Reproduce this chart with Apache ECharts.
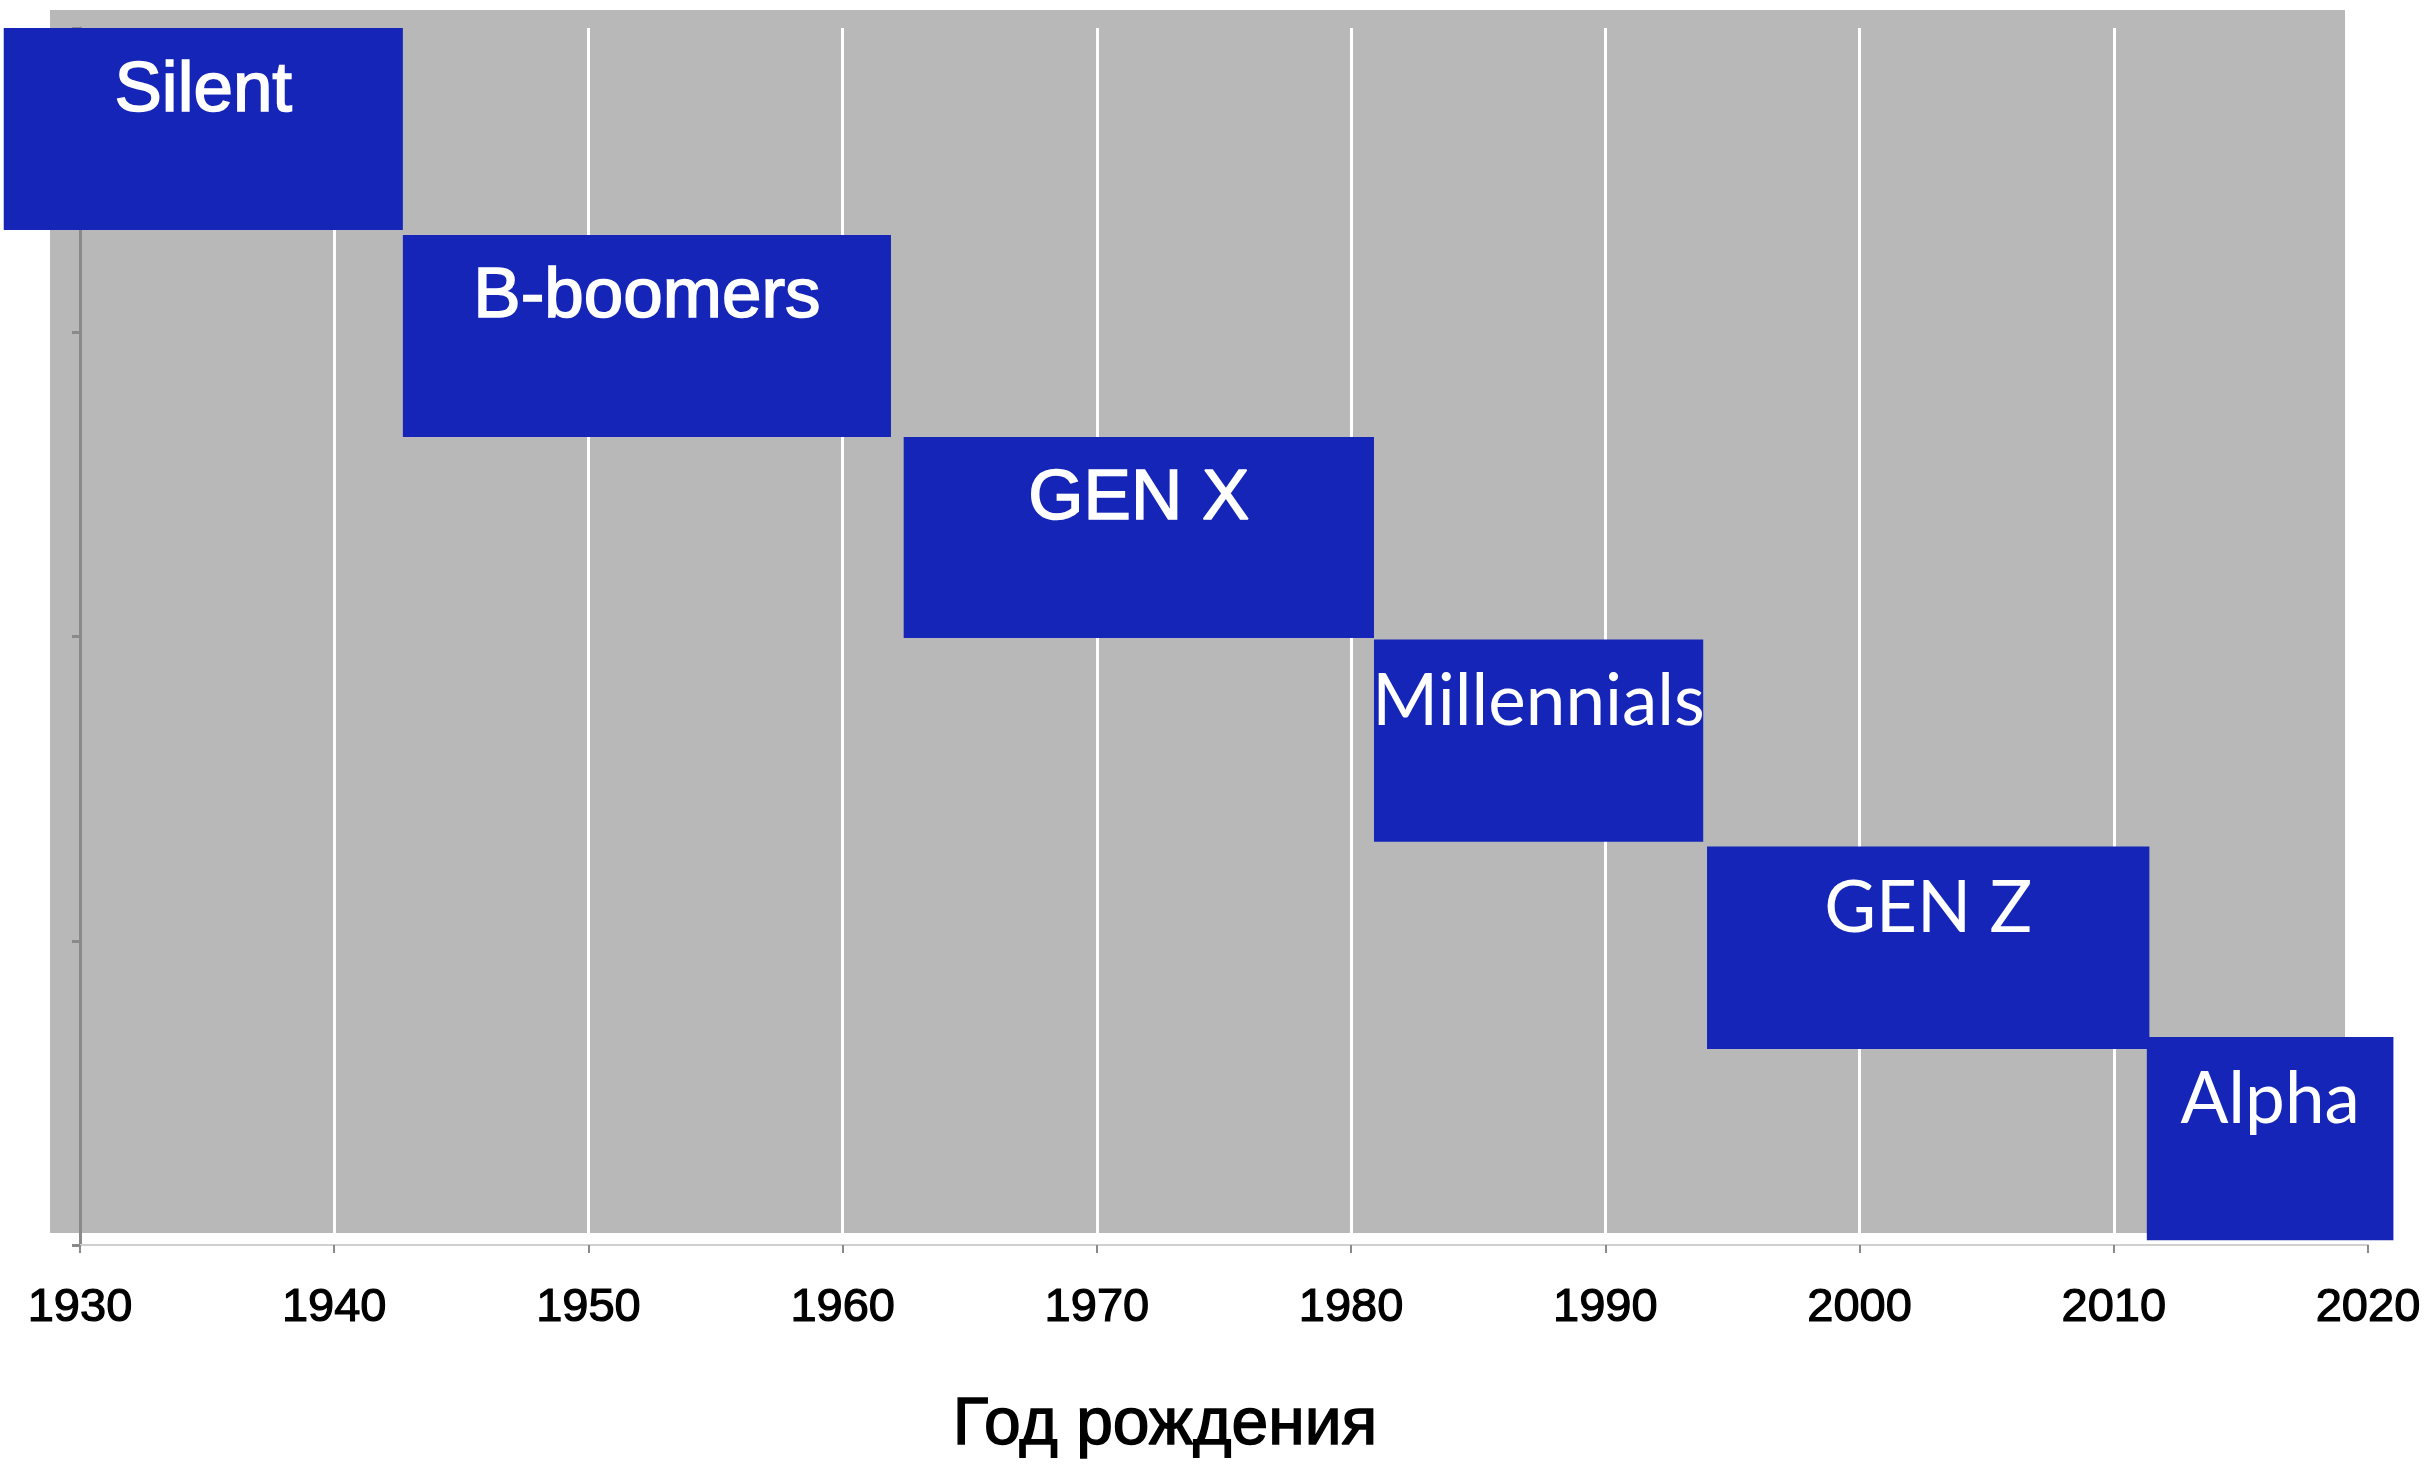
<!DOCTYPE html>
<html>
<head>
<meta charset="utf-8">
<script src="https://cdn.jsdelivr.net/npm/echarts@6/dist/echarts.min.js"></script>
<style>
  html, body { margin: 0; padding: 0; background: #FFFFFF; }
  #chart { width: 2429px; height: 1467px; }
</style>
</head>
<body>
<div id="chart"></div>
<script>
// Поколения по году рождения — плавающие полосы
var generations = ['Silent', 'B-boomers', 'GEN X', 'Millennials', 'GEN Z', 'Alpha'];
var startYear = [1927.0, 1942.7, 1962.4, 1980.9, 1994.0, 2011.3];
var endYear = [1942.7, 1961.9, 1980.9, 1993.85, 2011.4, 2021.0];
var rowTop = [4.0, 3.32, 2.656, 1.99, 1.31, 0.684];
var rowBottom = [3.336, 2.656, 1.995, 1.325, 0.644, 0.016];

var yearMin = 1930, yearMax = 2020, yearStep = 10;
var axisTitle = 'Год рождения';

var blue = '#1525B8';
var grey = '#B8B8B8';
var axisGrey = '#8A8A8A';
// first three labels in a Helvetica-like face (a thin outline makes it "medium"), the rest in a rounder one
var labelFonts = [
  'normal 71px "Liberation Sans"', 'normal 71px "Liberation Sans"', 'normal 71px "Liberation Sans"',
  'normal 71px Lato', 'normal 71px Lato', 'normal 71px Lato'
];
var labelOutline = [1.6, 1.6, 1.6, 0, 0, 0];

var barData = generations.map(function(name, i) {
  return [startYear[i], endYear[i], rowTop[i], rowBottom[i], name];
});

var chart = echarts.init(document.getElementById('chart'), null, { renderer: 'canvas' });
chart.setOption({
  animation: false,
  grid: [
    { left: 80, top: 28, right: 61, bottom: 222 },
    { left: 50, top: 10, width: 2295, height: 1223, show: true, backgroundColor: grey, borderWidth: 0 }
  ],
  xAxis: [
    {
      type: 'value',
      gridIndex: 0,
      min: yearMin,
      max: yearMax,
      interval: yearStep,
      name: axisTitle,
      nameLocation: 'middle',
      nameGap: 148,
      nameTextStyle: { color: '#000', fontSize: 66, fontFamily: 'Liberation Sans',
        textBorderColor: '#000', textBorderWidth: 1.4, padding: [0, 118, 0, 0] },
      axisLine: { show: true, lineStyle: { color: '#CFCFCF', width: 2 } },
      axisTick: { show: true, length: 8, lineStyle: { color: axisGrey, width: 2 } },
      axisLabel: { color: '#000', fontSize: 47, fontFamily: 'Liberation Sans', margin: 40,
        textBorderColor: '#000', textBorderWidth: 1.2,
        formatter: function(v) { return String(v); } },
      splitLine: { show: true, lineStyle: { color: '#FFFFFF', width: 3 } }
    },
    { type: 'value', gridIndex: 1, min: 0, max: 1, show: false }
  ],
  yAxis: [
    {
      type: 'value',
      gridIndex: 0,
      min: 0,
      max: 4,
      interval: 1,
      axisLine: { show: true, lineStyle: { color: axisGrey, width: 3 } },
      axisTick: { show: true, length: 8, lineStyle: { color: axisGrey, width: 3 } },
      axisLabel: { show: false },
      splitLine: { show: false }
    },
    { type: 'value', gridIndex: 1, min: 0, max: 1, show: false }
  ],
  series: [{
    type: 'custom',
    xAxisIndex: 0,
    yAxisIndex: 0,
    clip: false,
    data: barData,
    renderItem: function(params, api) {
      var p0 = api.coord([api.value(0), api.value(2)]);
      var p1 = api.coord([api.value(1), api.value(3)]);
      var idx = params.dataIndex;
      return {
        type: 'group',
        children: [
          {
            type: 'rect',
            shape: { x: p0[0], y: p0[1], width: p1[0] - p0[0], height: p1[1] - p0[1] },
            style: { fill: blue }
          },
          {
            type: 'text',
            style: {
              text: generations[idx],
              x: (p0[0] + p1[0]) / 2,
              y: p0[1] + 63,
              fill: '#FFFFFF',
              stroke: '#FFFFFF',
              lineWidth: labelOutline[idx],
              font: labelFonts[idx],
              align: 'center',
              verticalAlign: 'middle'
            }
          }
        ]
      };
    }
  }]
});
window.addEventListener('resize', function() { chart.resize(); });
</script>
</body>
</html>
